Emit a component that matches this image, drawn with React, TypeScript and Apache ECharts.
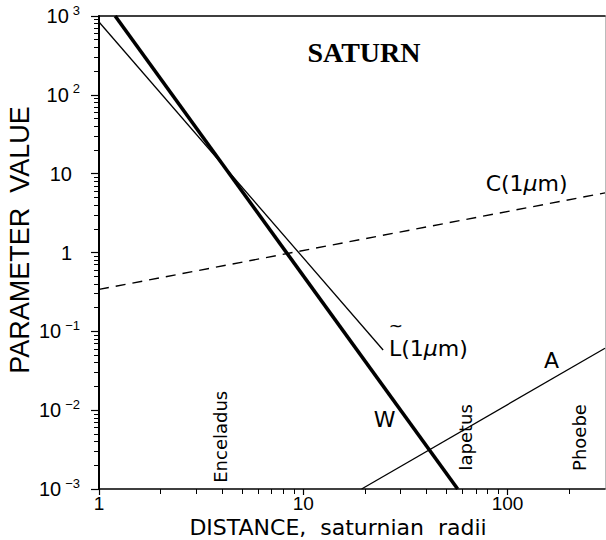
import React, { useEffect, useRef } from "react";
import * as echarts from "echarts";

// Axis ticks
const xMajor = [1, 10, 100];
const xMinor = [2, 3, 4, 5, 6, 7, 8, 9, 20, 30, 40, 50, 60, 70, 80, 90, 200];
const xTickLabels = ["1", "10", "100"];
const yMajor = [0.001, 0.01, 0.1, 1, 10, 100, 1000];
const yMinor = [
  0.002, 0.003, 0.004, 0.005, 0.006, 0.007, 0.008, 0.009,
  0.02, 0.03, 0.04, 0.05, 0.06, 0.07, 0.08, 0.09,
  0.2, 0.3, 0.4, 0.5, 0.6, 0.7, 0.8, 0.9,
  2, 3, 4, 5, 6, 7, 8, 9,
  20, 30, 40, 50, 60, 70, 80, 90,
  200, 300, 400, 500, 600, 700, 800, 900,
];
const yTickBase = ["10", "10", "10", "1", "10", "10", "10"];
const yTickExp = ["\u22123", "\u22122", "\u22121", "", "", "2", "3"];

// Curves (distance in saturnian radii, parameter value)
const wCurve = [[1.2, 1000], [57, 0.001]];
const lCurve = [[1, 840], [24.6, 0.058]];
const cCurve = [[1, 0.34], [300, 5.7]];
const aCurve = [[19.3, 0.001], [300, 0.061]];

// Annotations
const curveLabelText = ["W", "A", "{n|C(1}{i|\u03bc}{n|m)}", "{n|L(1}{i|\u03bc}{n|m)}", "~"];
const curveLabelSize = [22, 22, 22, 22, 17];
const curveLabelX = [25, 164, 124, 41, 28.4];
const curveLabelY = [0.0077, 0.043, 7.4, 0.061, 0.117];
const moonNames = ["Enceladus", "Iapetus", "Phoebe"];
const moonLabelX = [3.95, 62, 225];
const moonLabelY = [0.0046, 0.0045, 0.0045];

const SANS = "Liberation Sans, Arial, Helvetica, sans-serif";
const WIDE = "DejaVu Sans, Verdana, sans-serif";

export default function App() {
  const ref = useRef<HTMLDivElement>(null);
  useEffect(() => {
    if (!ref.current) return;
    const chart = echarts.init(ref.current, null, { renderer: "svg" });
    const black = "#000";
    const lineStyle = (w: number, type: any = "solid") => ({ color: black, width: w, type });
    const labelBase = {
      show: true, position: [0, 0], align: "center", verticalAlign: "middle",
      color: black, opacity: 1, textBorderWidth: 0, textBorderColor: "transparent",
    };
    const option: any = {
      animation: false,
      backgroundColor: "#fff",
      grid: { left: 99, right: 1, top: 16, bottom: 51 },
      xAxis: [
        {
          type: "log", min: 1, max: 300, position: "bottom",
          axisLine: { show: true, lineStyle: { color: black, width: 1.5 } },
          axisTick: { show: true, inside: false, length: 6, customValues: xMajor, lineStyle: { color: black, width: 1.2 } },
          axisLabel: {
            show: true, margin: 5, customValues: xMajor, color: black, fontFamily: SANS, fontSize: 19,
            formatter: (v: number) => {
              const i = xMajor.findIndex((m) => Math.abs(Math.log10(m) - Math.log10(v)) < 1e-6);
              return i >= 0 ? xTickLabels[i] : "";
            },
          },
          splitLine: { show: false }, minorTick: { show: false },
        },
        {
          type: "log", min: 1, max: 300, position: "bottom",
          axisLine: { show: false },
          axisTick: { show: true, inside: false, length: 5, customValues: xMinor, lineStyle: { color: black, width: 1 } },
          axisLabel: { show: false }, splitLine: { show: false },
        },
        {
          type: "log", min: 1, max: 300, position: "top",
          axisLine: { show: true, lineStyle: { color: black, width: 1.5 } },
          axisTick: { show: false }, axisLabel: { show: false }, splitLine: { show: false },
        },
      ],
      yAxis: [
        {
          type: "log", min: 0.001, max: 1000, position: "left",
          axisLine: { show: true, lineStyle: { color: black, width: 2 } },
          axisTick: { show: true, inside: false, length: 8, customValues: yMajor, lineStyle: { color: black, width: 1.2 } },
          axisLabel: {
            show: true, margin: 19, customValues: yMajor, color: black,
            formatter: (v: number) => {
              const i = yMajor.findIndex((m) => Math.abs(Math.log10(m) - Math.log10(v)) < 1e-6);
              if (i < 0) return "";
              return yTickExp[i] ? `{b|${yTickBase[i]}}{s|${yTickExp[i]}}` : `{p|${yTickBase[i]}}`;
            },
            rich: {
              b: { fontFamily: SANS, fontSize: 20, color: black, lineHeight: 22 },
              p: { fontFamily: SANS, fontSize: 20, color: black, lineHeight: 22, padding: [0, 8, 0, 0] },
              s: { fontFamily: SANS, fontSize: 13, color: black, lineHeight: 13, padding: [0, 0, 12, 4] },
            },
          },
          splitLine: { show: false }, minorTick: { show: false },
        },
        {
          type: "log", min: 0.001, max: 1000, position: "left",
          axisLine: { show: false },
          axisTick: { show: true, inside: false, length: 5, customValues: yMinor, lineStyle: { color: black, width: 1 } },
          axisLabel: { show: false }, splitLine: { show: false },
        },
        {
          type: "log", min: 0.001, max: 1000, position: "right",
          axisLine: { show: true, lineStyle: { color: "#bbb", width: 1 } },
          axisTick: { show: false }, axisLabel: { show: false }, splitLine: { show: false },
        },
      ],
      series: [
        { type: "line", name: "W", data: wCurve, symbol: "none", lineStyle: lineStyle(3.6), xAxisIndex: 0, yAxisIndex: 0, silent: true },
        { type: "line", name: "L", data: lCurve, symbol: "none", lineStyle: lineStyle(1.3), xAxisIndex: 0, yAxisIndex: 0, silent: true },
        { type: "line", name: "C", data: cCurve, symbol: "none", lineStyle: { color: black, width: 1.4, type: [10, 7] }, xAxisIndex: 0, yAxisIndex: 0, silent: true },
        { type: "line", name: "A", data: aCurve, symbol: "none", lineStyle: lineStyle(1.3), xAxisIndex: 0, yAxisIndex: 0, silent: true },
        {
          type: "scatter", name: "curveLabels", symbolSize: 0, silent: true,
          itemStyle: { color: black, opacity: 1 },
          data: curveLabelX.map((x, i) => ({
            value: [x, curveLabelY[i]],
            label: { formatter: curveLabelText[i], fontSize: curveLabelSize[i], lineHeight: curveLabelSize[i] },
          })),
          label: {
            ...labelBase, fontFamily: WIDE, fontSize: 22,
            rich: {
              n: { fontFamily: WIDE, fontSize: 22, color: black },
              i: { fontFamily: WIDE, fontSize: 22, color: black, fontStyle: "italic" },
            },
          },
        },
        {
          type: "scatter", name: "moons", symbolSize: 0, silent: true,
          itemStyle: { color: black, opacity: 1 },
          data: moonLabelX.map((x, i) => ({ value: [x, moonLabelY[i]], name: moonNames[i] })),
          label: { ...labelBase, rotate: 90, fontFamily: WIDE, fontSize: 18, formatter: (p: any) => p.name },
        },
      ],
      graphic: [
        { type: "text", x: 364, y: 52, style: { text: "SATURN", fontFamily: "Liberation Serif, Times New Roman, serif", fontWeight: "bold", fontSize: 28, fill: black, textAlign: "center", textVerticalAlign: "middle" } },
        { type: "text", x: 20, y: 240, rotation: Math.PI / 2, style: { text: "PARAMETER  VALUE", fontFamily: SANS, fontSize: 27, fill: black, textAlign: "center", textVerticalAlign: "middle" } },
        { type: "text", x: 338, y: 527, style: { text: "DISTANCE,  saturnian  radii", fontFamily: WIDE, fontSize: 22, fill: black, textAlign: "center", textVerticalAlign: "middle" } },
      ],
    };
    chart.setOption(option);
    return () => chart.dispose();
  }, []);
  return <div ref={ref} style={{ position: "fixed", left: 0, top: 0, width: 606, height: 540 }} />;
}
